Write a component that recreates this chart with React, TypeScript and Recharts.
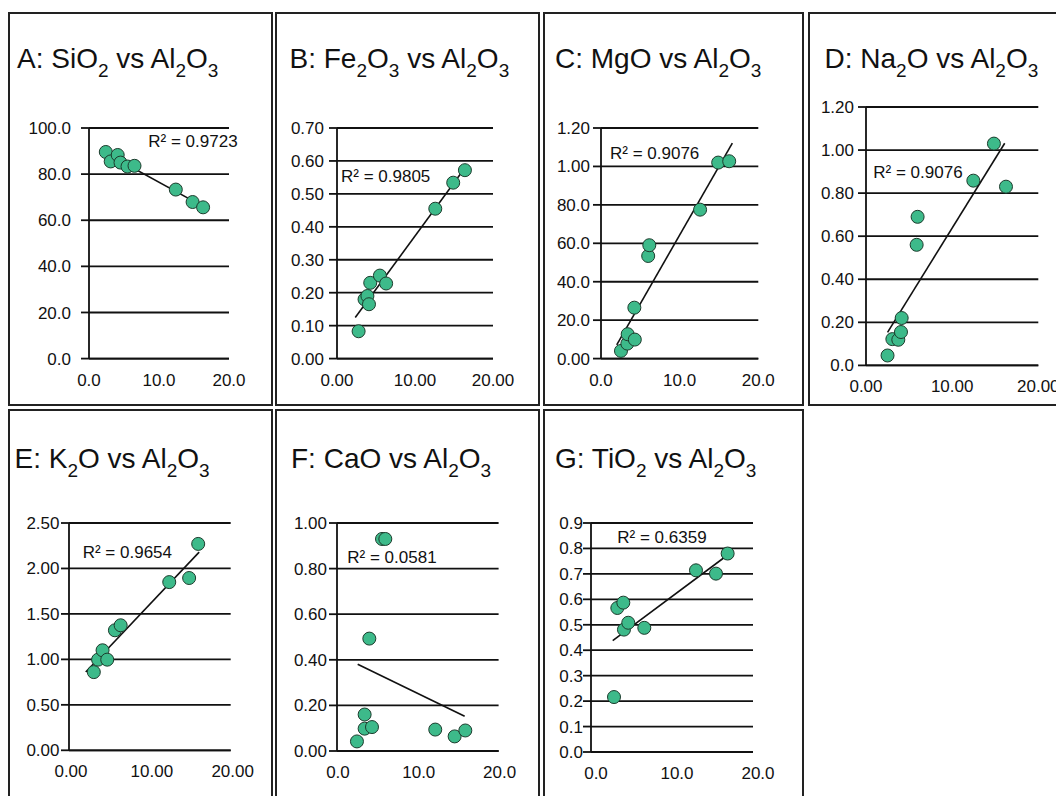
import React from 'react';
import { ScatterChart, Scatter, XAxis, YAxis, CartesianGrid, ReferenceLine } from 'recharts';

// panel titles ("_n" = subscript digit) and the R² printed in each panel
const titles = [
  'A: SiO_2 vs Al_2O_3',
  'B: Fe_2O_3 vs Al_2O_3',
  'C: MgO vs Al_2O_3',
  'D: Na_2O vs Al_2O_3',
  'E: K_2O vs Al_2O_3',
  'F: CaO vs Al_2O_3',
  'G: TiO_2 vs Al_2O_3',
];
const rSquared = ['0.9723', '0.9805', '0.9076', '0.9076', '0.9654', '0.0581', '0.6359'];

// Al2O3 (x) and oxide (y) readings per panel
const sio2Al = [2.4, 3.1, 4.1, 4.5, 5.5, 6.5, 12.4, 14.8, 16.3];
const sio2 = [89.6, 85.5, 88.3, 85.0, 83.3, 83.6, 73.3, 67.9, 65.6];

const fe2o3Al = [2.77, 3.53, 3.9, 4.1, 4.26, 5.5, 6.3, 12.6, 14.9, 16.4];
const fe2o3 = [0.083, 0.18, 0.19, 0.165, 0.23, 0.252, 0.228, 0.455, 0.534, 0.572];

const mgoAl = [2.54, 3.35, 3.39, 4.3, 4.24, 6.0, 6.14, 12.6, 14.9, 16.3];
const mgo = [0.04, 0.078, 0.127, 0.099, 0.265, 0.534, 0.59, 0.775, 1.02, 1.027];

const na2oAl = [2.5, 3.06, 3.75, 4.06, 4.14, 5.99, 5.88, 12.46, 14.85, 16.25];
const na2o = [0.046, 0.122, 0.119, 0.155, 0.22, 0.69, 0.56, 0.858, 1.03, 0.83];

const k2oAl = [3.07, 3.6, 4.15, 4.73, 5.68, 6.39, 12.4, 14.86, 15.98];
const k2o = [0.86, 0.997, 1.1, 0.997, 1.32, 1.375, 1.85, 1.895, 2.27];

const caoAl = [2.47, 3.42, 3.42, 4.33, 4.0, 5.57, 5.98, 12.16, 14.56, 15.88];
const cao = [0.042, 0.16, 0.098, 0.105, 0.493, 0.93, 0.93, 0.094, 0.064, 0.09];

const tio2Al = [2.84, 3.25, 3.99, 4.07, 4.6, 6.58, 12.96, 15.43, 16.87];
const tio2 = [0.216, 0.566, 0.587, 0.481, 0.508, 0.488, 0.714, 0.701, 0.78];

// x extent of each trend line
const trendSpans = [[2.0, 17.0], [2.34, 16.6], [2.0, 16.7], [2.5, 16.1], [2.07, 16.1], [2.56, 15.8], [2.68, 17.16]];

// axes
const xTicks = [0, 10, 20];
const xLabelsOne = ['0.0', '10.0', '20.0'];
const xLabelsTwo = ['0.00', '10.00', '20.00'];

const sio2Ticks = [0, 20, 40, 60, 80, 100];
const sio2Labels = ['0.0', '20.0', '40.0', '60.0', '80.0', '100.0'];
const fe2o3Ticks = [0, 0.1, 0.2, 0.3, 0.4, 0.5, 0.6, 0.7];
const fe2o3Labels = ['0.00', '0.10', '0.20', '0.30', '0.40', '0.50', '0.60', '0.70'];
const mgoTicks = [0, 0.2, 0.4, 0.6, 0.8, 1.0, 1.2];
const mgoLabels = ['0.00', '20.0', '40.0', '60.0', '80.0', '1.00', '1.20'];
const na2oTicks = [0, 0.2, 0.4, 0.6, 0.8, 1.0, 1.2];
const na2oLabels = ['0.0', '0.20', '0.40', '0.60', '0.80', '1.00', '1.20'];
const k2oTicks = [0, 0.5, 1.0, 1.5, 2.0, 2.5];
const k2oLabels = ['0.00', '0.50', '1.00', '1.50', '2.00', '2.50'];
const caoTicks = [0, 0.2, 0.4, 0.6, 0.8, 1.0];
const caoLabels = ['0.00', '0.20', '0.40', '0.60', '0.80', '1.00'];
const tio2Ticks = [0, 0.1, 0.2, 0.3, 0.4, 0.5, 0.6, 0.7, 0.8, 0.9];
const tio2Labels = ['0.0', '0.1', '0.2', '0.3', '0.4', '0.5', '0.6', '0.7', '0.8', '0.9'];

const FONT = '"Liberation Sans", Arial, sans-serif';
const INK = '#111';
const LINE_W = 1.8;
const Y_W = 80;
const M_TOP = 10;
const M_RIGHT = 24;
const X_H = 40;

const series = [
  { xs: sio2Al, ys: sio2, ticks: sio2Ticks, labels: sio2Labels, xl: xLabelsOne },
  { xs: fe2o3Al, ys: fe2o3, ticks: fe2o3Ticks, labels: fe2o3Labels, xl: xLabelsTwo },
  { xs: mgoAl, ys: mgo, ticks: mgoTicks, labels: mgoLabels, xl: xLabelsOne },
  { xs: na2oAl, ys: na2o, ticks: na2oTicks, labels: na2oLabels, xl: xLabelsTwo },
  { xs: k2oAl, ys: k2o, ticks: k2oTicks, labels: k2oLabels, xl: xLabelsTwo },
  { xs: caoAl, ys: cao, ticks: caoTicks, labels: caoLabels, xl: xLabelsOne },
  { xs: tio2Al, ys: tio2, ticks: tio2Ticks, labels: tio2Labels, xl: xLabelsOne },
];

// page layout: panel frame, plot area, label gaps, title and R² anchors
const layout = [
  { box: [8, 12, 265, 394], plot: [89.3, 229.3, 127.7, 358.3], gap: 10, xdx: 0, title: [17, 67.5], r2: [148.3, 146.7] },
  { box: [275, 12, 265, 394], plot: [336.7, 492.7, 127.7, 358.3], gap: 5, xdx: 0, title: [289.5, 67.5], r2: [341, 181.7] },
  { box: [543, 12, 261, 394], plot: [601, 758.3, 127.7, 358.3], gap: 3, xdx: 0, title: [555, 67.5], r2: [610, 159.3] },
  { box: [808, 12, 262, 394], plot: [866, 1038.3, 107.3, 365.7], gap: 4, xdx: 0, title: [824.5, 67.5], r2: [873.3, 177.7] },
  { box: [8, 409, 265, 400], plot: [69.3, 231, 522.7, 750], gap: 1.5, xdx: 2, title: [14.5, 468], r2: [82.7, 558.3] },
  { box: [275, 409, 265, 400], plot: [336.7, 498.3, 522.7, 750.7], gap: 2, xdx: 1, title: [291, 468], r2: [347.3, 563.3] },
  { box: [543, 409, 261, 400], plot: [591, 753, 522.7, 751.7], gap: 0, xdx: 5, title: [555, 468], r2: [617.3, 543.3] },
];

function fit(xs: number[], ys: number[]) {
  const n = xs.length;
  const mx = xs.reduce((a, b) => a + b, 0) / n;
  const my = ys.reduce((a, b) => a + b, 0) / n;
  let sxy = 0;
  let sxx = 0;
  xs.forEach((x, i) => {
    sxy += (x - mx) * (ys[i] - my);
    sxx += (x - mx) * (x - mx);
  });
  const slope = sxy / sxx;
  return (x: number) => my + slope * (x - mx);
}

const labelFor = (ticks: number[], labels: string[]) => (v: number) => {
  const i = ticks.findIndex((t) => Math.abs(t - v) < 1e-9);
  return i >= 0 ? labels[i] : '';
};

const Dot = (p: any) => (
  <circle cx={p.cx} cy={p.cy} r={6.5} fill="#3dba8a" stroke="#1c3b2c" strokeWidth={1} />
);

function Panel({ idx }: { idx: number }) {
  const s = series[idx];
  const l = layout[idx];
  const [left, right, top, bottom] = l.plot;
  const width = right - left + Y_W + M_RIGHT;
  const height = bottom - top + M_TOP + X_H;
  const pts = s.xs.map((x, i) => ({ x, y: s.ys[i] }));
  const f = fit(s.xs, s.ys);
  const [t0, t1] = trendSpans[idx];
  const tick = { fill: INK, fontSize: 17, fontFamily: FONT };
  return (
    <>
      <div
        style={{
          position: 'absolute',
          left: l.box[0],
          top: l.box[1],
          width: l.box[2],
          height: l.box[3],
          border: '2px solid #222',
          boxSizing: 'border-box',
        }}
      />
      <div style={{ position: 'absolute', left: left - Y_W, top: top - M_TOP }}>
        <ScatterChart width={width} height={height} margin={{ top: M_TOP, right: M_RIGHT, bottom: 0, left: 0 }}>
          <CartesianGrid vertical={false} stroke={INK} strokeWidth={LINE_W} />
          <XAxis
            type="number"
            dataKey="x"
            domain={[0, 20]}
            ticks={xTicks}
            interval={0}
            allowDataOverflow
            height={X_H}
            tickLine={false}
            tickSize={6}
            tickMargin={9}
            axisLine={{ stroke: INK, strokeWidth: LINE_W }}
            tick={{ ...tick, dx: l.xdx }}
            tickFormatter={labelFor(xTicks, s.xl)}
          />
          <YAxis
            type="number"
            dataKey="y"
            domain={[0, s.ticks[s.ticks.length - 1]]}
            ticks={s.ticks}
            interval={0}
            allowDataOverflow
            width={Y_W}
            tickSize={8}
            tickMargin={l.gap}
            tickLine={{ stroke: INK, strokeWidth: LINE_W }}
            axisLine={{ stroke: INK, strokeWidth: LINE_W }}
            tick={tick}
            tickFormatter={labelFor(s.ticks, s.labels)}
          />
          <Scatter data={pts} isAnimationActive={false} shape={Dot} />
          <ReferenceLine
            segment={[{ x: t0, y: f(t0) }, { x: t1, y: f(t1) }]}
            stroke={INK}
            strokeWidth={1.6}
            ifOverflow="visible"
          />
        </ScatterChart>
      </div>
    </>
  );
}

function Title({ text, x, y }: { text: string; x: number; y: number }) {
  const parts = text.split(/_(\d)/);
  let lowered = false;
  const spans: React.ReactNode[] = [];
  parts.forEach((p, i) => {
    if (!p) return;
    const sub = i % 2 === 1;
    const dy = sub && !lowered ? 9 : !sub && lowered ? -9 : 0;
    lowered = sub;
    spans.push(
      <tspan key={i} fontSize={sub ? 19 : 28} dy={dy}>
        {p}
      </tspan>
    );
  });
  return (
    <text x={x} y={y} fill={INK} fontFamily={FONT} style={{ whiteSpace: 'pre' }}>
      {spans}
    </text>
  );
}

export default function App() {
  return (
    <div
      style={{
        position: 'absolute',
        left: 0,
        top: 0,
        width: 1056,
        height: 796,
        overflow: 'hidden',
        background: '#fff',
        fontFamily: FONT,
      }}
    >
      {series.map((_, i) => (
        <Panel key={i} idx={i} />
      ))}
      <svg width={1056} height={796} style={{ position: 'absolute', left: 0, top: 0, pointerEvents: 'none' }}>
        {titles.map((t, i) => (
          <g key={i}>
            <Title text={t} x={layout[i].title[0]} y={layout[i].title[1]} />
            <text x={layout[i].r2[0]} y={layout[i].r2[1]} fontSize={17} fill={INK} fontFamily={FONT}>
              {`R² = ${rSquared[i]}`}
            </text>
          </g>
        ))}
      </svg>
    </div>
  );
}
